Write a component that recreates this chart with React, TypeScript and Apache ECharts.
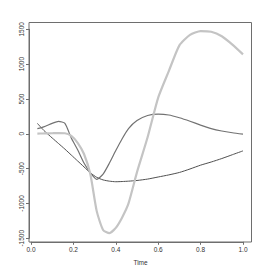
import React, { useEffect, useRef } from "react";
import * as echarts from "echarts";

const times = [0.03, 0.06, 0.1, 0.13, 0.16, 0.19, 0.22, 0.25, 0.28, 0.31, 0.34, 0.37, 0.4, 0.43, 0.46, 0.5, 0.55, 0.6, 0.65, 0.7, 0.75, 0.8, 0.85, 0.9, 0.95, 1.0];
const darkCurve = [150, 50, -60, -140, -220, -305, -390, -475, -560, -625, -662, -680, -688, -685, -680, -670, -650, -620, -590, -555, -505, -450, -405, -355, -300, -245];
const mediumCurve = [75, 100, 150, 178, 150, -60, -230, -420, -560, -655, -580, -420, -240, -70, 75, 190, 262, 283, 270, 230, 180, 125, 75, 40, 15, -5];
const lightCurve = [3, 5, 8, 10, 8, -30, -130, -290, -580, -1110, -1380, -1425, -1350, -1200, -1000, -550, -50, 520, 900, 1270, 1420, 1475, 1465, 1400, 1280, 1140];
const xTicks = { min: 0, max: 1, step: 0.2 };
const yTicks = { min: -1500, max: 1500, step: 500 };
const xTitle = "Time";

const FONT = "Liberation Sans, Arial, Helvetica, sans-serif";
const AXIS_COLOR = "#6e6e6e";
const TEXT_COLOR = "#333333";

export default function App() {
  const ref = useRef<HTMLDivElement>(null);
  useEffect(() => {
    if (!ref.current) return;
    const chart = echarts.init(ref.current, undefined, { renderer: "svg" });
    const toData = (arr: number[]) => times.map((t, i) => [t, arr[i]]);
    chart.setOption({
      animation: false,
      backgroundColor: "#ffffff",
      grid: { left: 31, right: 23, top: 29.3, bottom: 32.7 },
      xAxis: {
        type: "value",
        min: xTicks.min,
        max: xTicks.max,
        interval: xTicks.step,
        offset: 3.5,
        axisLine: { show: true, onZero: false, lineStyle: { color: AXIS_COLOR, width: 1 } },
        axisTick: { show: true, length: 3, lineStyle: { color: AXIS_COLOR } },
        splitLine: { show: false },
        axisLabel: {
          formatter: (v: number) => v.toFixed(1),
          fontSize: 6.5,
          fontFamily: FONT,
          color: TEXT_COLOR,
          margin: 4,
        },
      },
      yAxis: {
        type: "value",
        min: yTicks.min,
        max: yTicks.max,
        interval: yTicks.step,
        offset: 2,
        axisLine: { show: true, onZero: false, lineStyle: { color: AXIS_COLOR, width: 1 } },
        axisTick: { show: true, length: 3, lineStyle: { color: AXIS_COLOR } },
        splitLine: { show: false },
        axisLabel: {
          rotate: 90,
          formatter: (v: number) => String(v),
          fontSize: 6.5,
          fontFamily: FONT,
          color: TEXT_COLOR,
          margin: 4,
        },
      },
      graphic: [
        {
          type: "rect",
          shape: { x: 29, y: 22.5, width: 222.5, height: 219.5 },
          style: { fill: "none", stroke: AXIS_COLOR, lineWidth: 1 },
          silent: true,
          z: 0,
        },
        {
          type: "text",
          x: 140.5,
          y: 262,
          style: {
            text: xTitle,
            fontSize: 6.5,
            fontFamily: FONT,
            fill: TEXT_COLOR,
            textAlign: "center",
            textVerticalAlign: "middle",
          },
        },
      ],
      series: [
        {
          type: "line",
          data: toData(darkCurve),
          showSymbol: false,
          smooth: 0.2,
          lineStyle: { color: "#505050", width: 1 },
        },
        {
          type: "line",
          data: toData(mediumCurve),
          showSymbol: false,
          smooth: 0.2,
          lineStyle: { color: "#727272", width: 1.2 },
        },
        {
          type: "line",
          data: toData(lightCurve),
          showSymbol: false,
          smooth: 0.2,
          lineStyle: { color: "#c4c4c4", width: 2.2 },
        },
      ],
    });
    return () => chart.dispose();
  }, []);
  return (
    <div
      ref={ref}
      style={{ position: "fixed", left: 0, top: 0, width: 266, height: 271 }}
    />
  );
}
